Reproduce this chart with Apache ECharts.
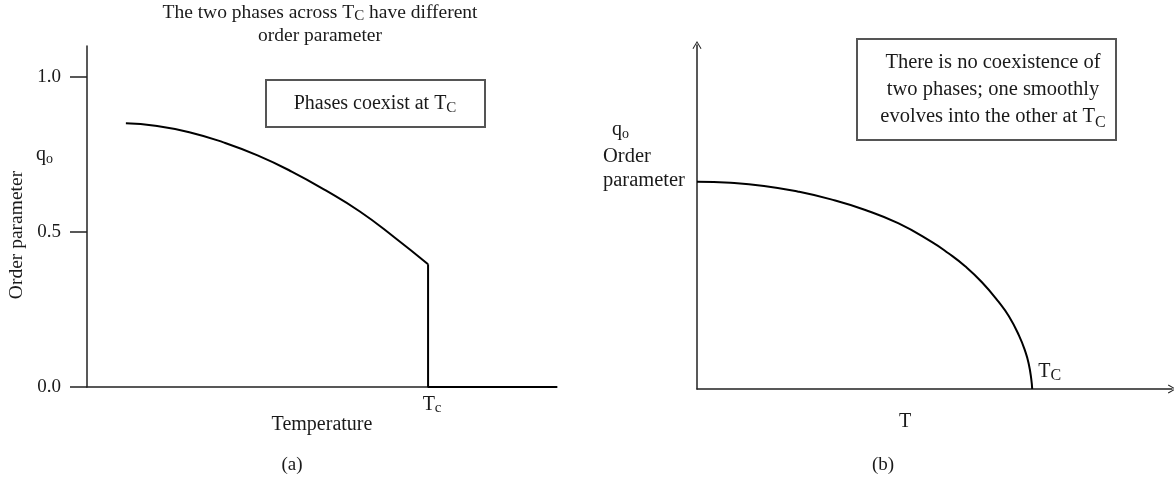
<!DOCTYPE html>
<html>
<head>
<meta charset="utf-8">
<style>
  html, body { margin: 0; padding: 0; background: #fff; }
  #chart { width: 1174px; height: 481px; }
</style>
<script src="https://cdn.jsdelivr.net/npm/echarts@6.0.0/dist/echarts.min.js"></script>
</head>
<body>
<div id="chart"></div>
<script>
// (a) First-order transition: order parameter below Tc (temperature in units of Tc)
const firstOrderT = [0.114, 0.2, 0.3, 0.4, 0.5, 0.6, 0.7, 0.8, 0.9, 1.0];
const firstOrderQ = [0.851, 0.843, 0.822, 0.789, 0.747, 0.695, 0.634, 0.566, 0.484, 0.396];
// Discontinuous drop at Tc and the disordered phase above it
const jumpT = [1.0, 1.0, 1.378];
const jumpQ = [0.396, 0.0, 0.0];
// Tick values of the order-parameter axis in (a)
const yTicksA = [0.0, 0.5, 1.0];

// (b) Continuous transition: order parameter relative to its T = 0 value q0
const contT = [0.0, 0.1, 0.2, 0.3, 0.4, 0.5, 0.6, 0.7, 0.75, 0.8, 0.85, 0.9, 0.93, 0.96, 0.98, 0.99, 0.997, 1.0];
const contQ = [1.0, 0.995, 0.98, 0.953, 0.915, 0.865, 0.80, 0.71, 0.655, 0.592, 0.515, 0.42, 0.352, 0.26, 0.178, 0.118, 0.05, 0.0];

const zip = (xs, ys) => xs.map((x, i) => [x, ys[i]]);

const SERIF = '"Liberation Serif", "DejaVu Serif", serif';
const INK = '#1a1a1a';
const AXIS = '#222';

// rich-text styles for a symbol with a subscript
function subRich(size, subSize, lh) {
  return {
    m: { fontFamily: SERIF, fontSize: size, color: INK, lineHeight: lh, verticalAlign: 'middle' },
    s: { fontFamily: SERIF, fontSize: subSize, color: INK, lineHeight: lh, verticalAlign: 'bottom' }
  };
}

// open chevron used as axis arrow head (points up before rotation)
const chevron = 'path://M5,0 L10,8.4 L9,9 L5,1.9 L1,9 L0,8.4 Z';

function txt(x, y, text, opts) {
  const o = opts || {};
  return {
    type: 'text',
    x: x, y: y,
    rotation: o.rotation || 0,
    style: {
      text: text,
      fontFamily: SERIF,
      fontSize: o.size || 20,
      fill: INK,
      align: o.align || 'center',
      verticalAlign: o.valign || 'middle',
      lineHeight: o.lh,
      rich: o.rich
    }
  };
}

const chart = echarts.init(document.getElementById('chart'), null, { renderer: 'canvas' });

chart.setOption({
  animation: false,
  backgroundColor: '#fff',
  grid: [
    { left: 87, top: 46, width: 470, height: 341 },
    { left: 697, top: 45, width: 475, height: 344 }
  ],
  xAxis: [
    {
      gridIndex: 0, type: 'value', min: 0, max: 1.378,
      axisLine: { show: true, lineStyle: { color: AXIS, width: 1.5 } },
      axisTick: { show: false },
      axisLabel: { show: false },
      splitLine: { show: false }
    },
    {
      gridIndex: 1, type: 'value', min: 0, max: 1.417,
      axisLine: {
        show: true, symbol: ['none', chevron], symbolSize: [9, 9],
        lineStyle: { color: AXIS, width: 1.5 }
      },
      axisTick: { show: false },
      axisLabel: { show: false },
      splitLine: { show: false }
    }
  ],
  yAxis: [
    {
      gridIndex: 0, type: 'value', min: 0, max: 1.1,
      axisLine: { show: true, lineStyle: { color: AXIS, width: 1.5 } },
      axisTick: { show: true, length: 17, customValues: yTicksA, lineStyle: { color: AXIS, width: 1.5 } },
      axisLabel: {
        customValues: yTicksA,
        formatter: v => v.toFixed(1),
        margin: 26, fontFamily: SERIF, fontSize: 19, color: INK
      },
      splitLine: { show: false }
    },
    {
      gridIndex: 1, type: 'value', min: 0, max: 1.66,
      axisLine: {
        show: true, symbol: ['none', chevron], symbolSize: [9, 9],
        lineStyle: { color: AXIS, width: 1.5 }
      },
      axisTick: { show: false },
      axisLabel: { show: false },
      splitLine: { show: false }
    }
  ],
  series: [
    {
      name: 'ordered phase (a)', type: 'line', xAxisIndex: 0, yAxisIndex: 0,
      data: zip(firstOrderT, firstOrderQ),
      smooth: 0.5, showSymbol: false, symbol: 'none',
      lineStyle: { color: '#000', width: 2 }
    },
    {
      name: 'jump at Tc (a)', type: 'line', xAxisIndex: 0, yAxisIndex: 0,
      data: zip(jumpT, jumpQ),
      showSymbol: false, symbol: 'none',
      lineStyle: { color: '#000', width: 2 },
      markPoint: {
        symbol: 'circle', symbolSize: 0,
        data: [{ coord: [1.0, 0.0] }],
        label: {
          show: true, position: 'bottom', offset: [4, 2],
          formatter: '{m|T}{s|c}', rich: subRich(20, 15, 22)
        }
      }
    },
    {
      name: 'order parameter (b)', type: 'line', xAxisIndex: 1, yAxisIndex: 1,
      data: zip(contT, contQ),
      smooth: 0.5, showSymbol: false, symbol: 'none',
      lineStyle: { color: '#000', width: 2 },
      markPoint: {
        symbol: 'circle', symbolSize: 0,
        data: [{ coord: [1.0, 0.0] }],
        label: {
          show: true, position: 'right', offset: [1, -17],
          formatter: '{m|T}{s|C}', rich: subRich(20, 16, 24)
        }
      }
    }
  ],
  graphic: [
    // heading of (a)
    txt(320, 1, 'The two phases across {m|T}{s|C} have different\norder parameter',
      { valign: 'top', lh: 23, size: 19.5, rich: subRich(19.5, 15, 23) }),
    // annotation box of (a)
    { type: 'rect', shape: { x: 266, y: 80, width: 219, height: 47 },
      style: { fill: 'none', stroke: '#555', lineWidth: 2 } },
    txt(375, 104, 'Phases coexist at {m|T}{s|C}', { size: 20, lh: 24, rich: subRich(20, 15, 24) }),
    // axis titles of (a)
    txt(17, 235, 'Order parameter', { rotation: Math.PI / 2, size: 19.5 }),
    txt(36, 155, '{m|q}{s|o}', { align: 'left', rich: subRich(20, 14, 22) }),
    txt(322, 425, 'Temperature', { size: 20 }),
    txt(292, 465, '(a)', { size: 19 }),

    // annotation box of (b)
    { type: 'rect', shape: { x: 857, y: 39, width: 259, height: 101 },
      style: { fill: 'none', stroke: '#555', lineWidth: 2 } },
    txt(993, 90, 'There is no coexistence of\ntwo phases; one smoothly\nevolves into the other at {m|T}{s|C}',
      { size: 20.5, lh: 27, rich: subRich(20.5, 16, 27) }),
    // axis titles of (b)
    txt(612, 130, '{m|q}{s|o}', { align: 'left', rich: subRich(20, 14, 22) }),
    txt(603, 157, 'Order', { align: 'left', size: 20.5 }),
    txt(603, 181, 'parameter', { align: 'left', size: 20.5 }),
    txt(905, 422, 'T', { size: 20 }),
    txt(883, 465, '(b)', { size: 19 })
  ]
});
</script>
</body>
</html>
